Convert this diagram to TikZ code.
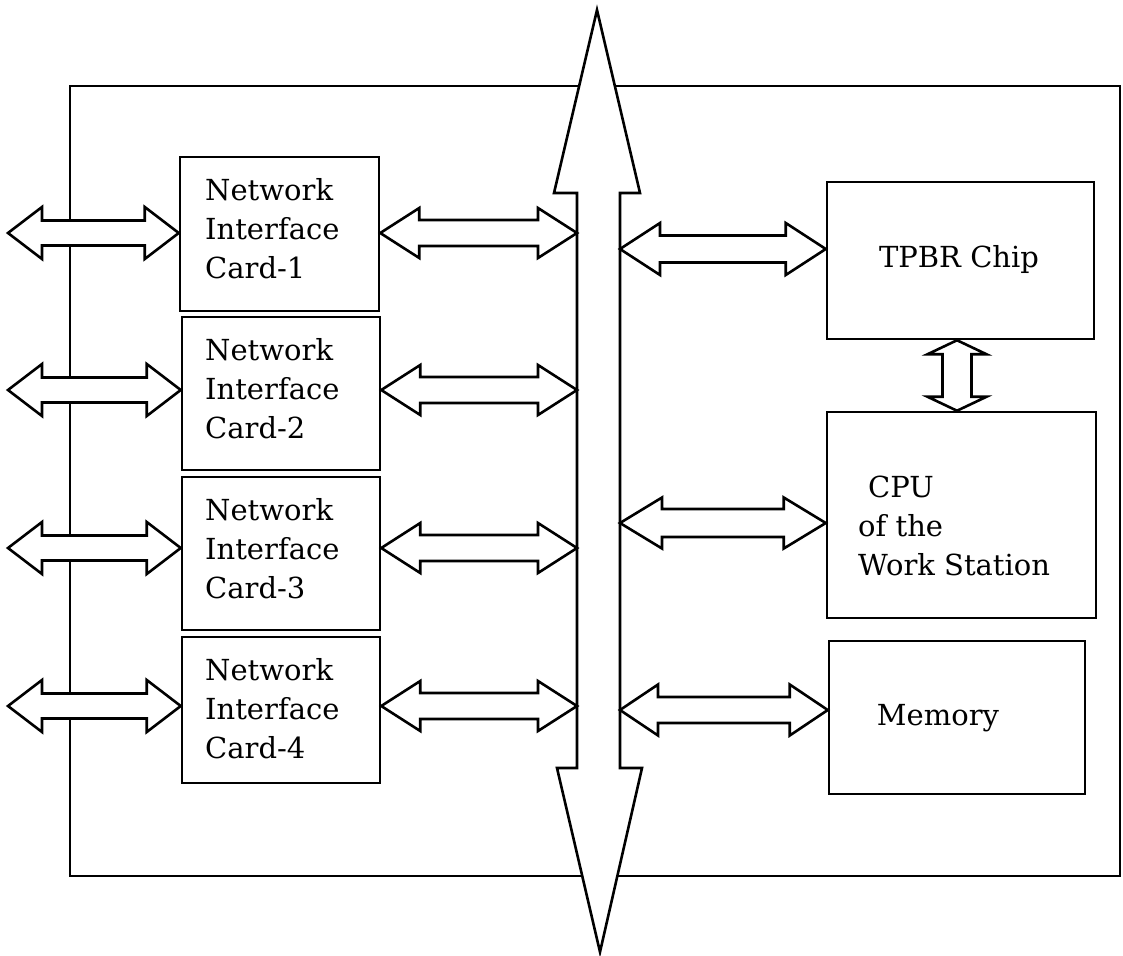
\documentclass[tikz,border=0pt]{standalone}
\usepackage{fontspec}
\setmainfont{DejaVu Serif}
\usetikzlibrary{calc}
\tikzset{
  box/.style={draw=black, line width=2.5pt, inner sep=0pt, fill=white},
  arr/.style={draw=black, line width=2.6pt, fill=white, line join=miter},
  lbl/.style={inner sep=0pt, font=\fontsize{29}{39}\selectfont, align=left}
}
% horizontal double arrow: left tip, right tip, head length, head half-width, shaft half-width
\newcommand\harrow[5]{\draw[arr] let \p1=(#1), \p2=(#2) in
  (\x1,\y1) -- (\x1+#3,\y1+#4) -- (\x1+#3,\y1+#5) -- (\x2-#3,\y1+#5) -- (\x2-#3,\y1+#4)
  -- (\x2,\y1) -- (\x2-#3,\y1-#4) -- (\x2-#3,\y1-#5) -- (\x1+#3,\y1-#5) -- (\x1+#3,\y1-#4) -- cycle;}
% vertical double arrow: top tip, bottom tip, head length, head half-width, shaft half-width
\newcommand\varrow[5]{\draw[arr] let \p1=(#1), \p2=(#2) in
  (\x1,\y1) -- (\x1+#4,\y1-#3) -- (\x1+#5,\y1-#3) -- (\x1+#5,\y2+#3) -- (\x1+#4,\y2+#3)
  -- (\x1,\y2) -- (\x1-#4,\y2+#3) -- (\x1-#5,\y2+#3) -- (\x1-#5,\y1-#3) -- (\x1-#4,\y1-#3) -- cycle;}
\begin{document}
\begin{tikzpicture}[x=1pt,y=-1pt]
\useasboundingbox (0,0) rectangle (1123,955);
\fill[white] (0,0) rectangle (1123,955);
% outer frame
\draw[line width=2.5pt] (70,86) rectangle (1120,876);
% boxes
\node[box, minimum width=199pt, minimum height=154pt] (nic1) at (279.5,234) {};
\node[box, minimum width=198pt, minimum height=153pt] (nic2) at (281,393.5) {};
\node[box, minimum width=198pt, minimum height=153pt] (nic3) at (281,553.5) {};
\node[box, minimum width=198pt, minimum height=146pt] (nic4) at (281,710) {};
\node[box, minimum width=267pt, minimum height=157pt] (tpbr) at (960.5,260.5) {};
\node[box, minimum width=269pt, minimum height=206pt] (cpu) at (961.5,515) {};
\node[box, minimum width=256pt, minimum height=153pt] (mem) at (957,717.5) {};
% texts
\node[lbl, anchor=north west] at (205,178) {Network\\Interface\\Card-1};
\node[lbl, anchor=north west] at (205,338) {Network\\Interface\\Card-2};
\node[lbl, anchor=north west] at (205,498) {Network\\Interface\\Card-3};
\node[lbl, anchor=north west] at (205,658) {Network\\Interface\\Card-4};
\node[lbl, anchor=base] at (959,267) {TPBR Chip};
\node[lbl, anchor=north west] at (858,476) {\hspace*{10pt}CPU\\of the\\Work Station};
\node[lbl, anchor=base] at (938,725) {Memory};
% bus
\coordinate (busL) at (577,0);
\coordinate (busR) at (620,0);
\draw[arr] (597,10) -- (640,193) -- (620,193) -- (620,768) -- (642,768) -- (600,952)
  -- (557,768) -- (577,768) -- (577,193) -- (554,193) -- cycle;
% external arrows
\coordinate (ext1) at (8,233);
\coordinate (ext2) at (8,390);
\coordinate (ext3) at (8,548);
\coordinate (ext4) at (8,706);
\foreach \i in {1,2,3,4}{
  \harrow{ext\i}{nic\i.west |- ext\i}{34}{26}{12.5}
  \harrow{nic\i.east |- ext\i}{busL |- ext\i}{39}{25}{13}
}
% right side arrows
\coordinate (ra1) at (0,249);
\coordinate (ra2) at (0,523);
\coordinate (ra3) at (0,710);
\harrow{busR |- ra1}{tpbr.west |- ra1}{40}{26}{13.5}
\harrow{busR |- ra2}{cpu.west |- ra2}{42}{25.5}{14}
\harrow{busR |- ra3}{mem.west |- ra3}{38}{25.5}{13}
% TPBR - CPU
\coordinate (vx) at (957,0);
\varrow{vx |- tpbr.south}{vx |- cpu.north}{14}{29.5}{14.5}
\end{tikzpicture}
\end{document}
